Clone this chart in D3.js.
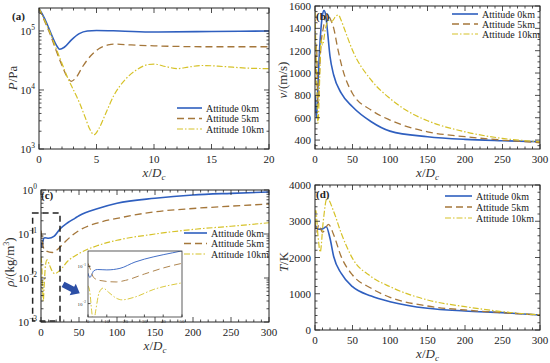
<!DOCTYPE html>
<meta charset="utf-8">
<title>flow properties</title>
<style>

body {
  margin: 0;
  background: #fff;
}

svg text {
  font-family: "Liberation Serif", "DejaVu Serif", serif;
}

.frame {
  fill: none;
  stroke: #222;
  stroke-width: 1px;
}

.tick {
  stroke: #222;
  stroke-width: 0.8px;
}

.ticklabel {
  font-size: 11px;
  fill: #222;
}

.legend text {
  font-size: 10px;
  fill: #222;
}

.title {
  font-size: 13px;
  fill: #333;
}

.line {
  fill: none;
}

.s0 {
  stroke: #2f5fbf;
  stroke-width: 1.6px;
}

.s5 {
  stroke: #a5773b;
  stroke-width: 1.3px;
  stroke-dasharray: 7,4;
}

.s10 {
  stroke: #d6c228;
  stroke-width: 1.2px;
  stroke-dasharray: 6,2,1.5,2;
}

</style>
<body>
<script src="https://d3js.org/d3.v7.min.js"></script>
<script>

var seriesNames = ["Attitude 0km", "Attitude 5km", "Attitude 10km"],
    seriesClass = ["s0", "s5", "s10"];

// (a) pressure P/Pa vs x/Dc
var pres0 = [[0,2.4e5],[0.5,1.6e5],[1,9.5e4],[1.5,5.8e4],[1.8,4.9e4],[2.2,5.3e4],[2.8,7.0e4],[3.5,9.0e4],[4.2,1.0e5],[5,1.02e5],[7,1.0e5],[10,0.96e5],[15,0.98e5],[20,1.0e5]];
var pres5 = [[0,2.4e5],[0.5,1.45e5],[1,8.5e4],[1.5,4.6e4],[2,2.6e4],[2.5,1.6e4],[2.8,1.4e4],[3.2,1.6e4],[3.8,2.5e4],[4.5,3.8e4],[5.2,5.0e4],[6,5.8e4],[6.5,6.0e4],[8,5.8e4],[10,5.6e4],[15,5.4e4],[20,5.4e4]];
var pres10 = [[0,2.4e5],[0.5,1.5e5],[1,9e4],[1.5,5e4],[2,2.8e4],[2.5,1.6e4],[3,1.0e4],[3.5,6.2e3],[4,3.5e3],[4.4,2.2e3],[4.8,1.75e3],[5.2,2.2e3],[5.8,4e3],[6.5,8e3],[7.5,1.5e4],[8.5,2.2e4],[9.5,2.7e4],[10,2.75e4],[11,2.5e4],[12,2.3e4],[13,2.45e4],[14.2,2.6e4],[16,2.5e4],[18,2.35e4],[20,2.3e4]];

// (b) velocity v/(m/s)
var vel0 = [[0,800],[2,600],[4,900],[6,1200],[8,1400],[10,1520],[12,1560],[14,1530],[17,1350],[20,1150],[25,980],[35,820],[50,698],[75,564],[100,480],[150,430],[200,406],[250,394],[300,385]];
var vel5 = [[0,900],[2,1250],[4,700],[6,1000],[8,1250],[11,1400],[14,1500],[17,1530],[20,1490],[25,1400],[30,1230],[36,1055],[50,817],[75,668],[100,579],[150,474],[200,430],[250,400],[300,376]];
var vel10 = [[0,1550],[2,1000],[4,550],[6,900],[8,1300],[10,1250],[14,1400],[18,1470],[22,1460],[28,1510],[31,1520],[35,1470],[40,1380],[50,1204],[75,936],[100,772],[125,653],[150,573],[200,474],[250,415],[300,385]];

// (c) density rho/(kg/m3)
var rho0 = [[0,0.065],[1,0.05],[2,0.06],[3,0.075],[5,0.082],[10,0.08],[17,0.088],[25,0.13],[35,0.18],[45,0.23],[50,0.26],[75,0.38],[100,0.5],[150,0.65],[200,0.77],[250,0.84],[300,0.9]];
var rho5 = [[0,0.12],[1,0.09],[3,0.05],[6,0.042],[15,0.038],[20,0.042],[30,0.062],[40,0.09],[50,0.12],[75,0.18],[100,0.226],[150,0.32],[200,0.38],[250,0.43],[300,0.48]];
var rho10 = [[0,0.03],[1,0.02],[2,0.006],[3,0.003],[4,0.006],[6,0.02],[8,0.026],[11,0.02],[15,0.014],[18,0.0126],[25,0.015],[35,0.024],[50,0.036],[75,0.055],[100,0.072],[150,0.1],[200,0.127],[250,0.15],[300,0.18]];

// (d) temperature T/K
var temp0 = [[0,2900],[5,2780],[10,2790],[15,2850],[20,2530],[25,2020],[35,1560],[50,1195],[75,938],[100,782],[150,598],[200,524],[250,478],[300,414]];
var temp5 = [[0,3000],[2,2700],[5,2900],[10,2700],[18,2915],[25,2620],[35,2020],[50,1517],[75,1150],[100,901],[150,662],[200,552],[250,478],[300,414]];
var temp10 = [[0,2900],[1,3300],[4,2600],[7,2150],[11,3000],[16,3640],[25,3264],[35,2667],[50,1977],[75,1471],[100,1195],[150,828],[200,644],[250,506],[300,414]];

// tick values
var xTicksA = [0, 5, 10, 15, 20],
    xTicksLong = [0, 50, 100, 150, 200, 250, 300],
    yTicksB = [400, 600, 800, 1000, 1200, 1400, 1600],
    yTicksD = [0, 1000, 2000, 3000, 4000],
    xTicksInset = [0, 10, 20, 30, 40, 50];

var svg = d3.select("body").append("svg")
    .attr("width", 550)
    .attr("height", 363);

var defs = svg.append("defs");

var line = function(x, y) {
  return d3.line()
      .x(function(d) { return x(d[0]); })
      .y(function(d) { return y(d[1]); })
      .curve(d3.curveMonotoneX);
};

function supLabel(sel, base, exp, size) {
  sel.text(base);
  sel.append("tspan")
      .attr("dy", -size * 0.45)
      .attr("font-size", size * 0.68)
      .text(exp);
}

function logMinor(dom) {
  var out = [];
  for (var e = Math.floor(Math.log10(dom[0])); e <= Math.ceil(Math.log10(dom[1])); e++) {
    for (var k = 2; k < 10; k++) {
      var v = k * Math.pow(10, e);
      if (v > dom[0] && v < dom[1]) out.push(v);
    }
  }
  return out;
}

function panel(o) {
  var g = svg.append("g");
  var x = d3.scaleLinear().domain(o.xDomain).range([o.left, o.right]);
  var y = (o.log ? d3.scaleLog() : d3.scaleLinear()).domain(o.yDomain).range([o.bottom, o.top]);

  defs.append("clipPath").attr("id", "clip" + o.name)
    .append("rect")
      .attr("x", o.left).attr("y", o.top)
      .attr("width", o.right - o.left).attr("height", o.bottom - o.top);

  o.series.forEach(function(s, i) {
    g.append("path")
        .datum(s)
        .attr("class", "line " + seriesClass[i])
        .attr("clip-path", "url(#clip" + o.name + ")")
        .attr("d", line(x, y));
  });

  // inward ticks on all four sides
  var ticks = g.append("g");
  function xt(v, len) {
    ticks.append("line").attr("class", "tick").attr("x1", x(v)).attr("x2", x(v)).attr("y1", o.bottom).attr("y2", o.bottom - len);
    ticks.append("line").attr("class", "tick").attr("x1", x(v)).attr("x2", x(v)).attr("y1", o.top).attr("y2", o.top + len);
  }
  function yt(v, len) {
    ticks.append("line").attr("class", "tick").attr("y1", y(v)).attr("y2", y(v)).attr("x1", o.left).attr("x2", o.left + len);
    ticks.append("line").attr("class", "tick").attr("y1", y(v)).attr("y2", y(v)).attr("x1", o.right).attr("x2", o.right - len);
  }
  o.xTicks.forEach(function(v) { xt(v, 5); });
  d3.range(o.xDomain[0], o.xDomain[1], o.xMinor).forEach(function(v) {
    if (o.xTicks.indexOf(v) < 0) xt(v, 2.5);
  });
  if (o.log) {
    o.yTicks.forEach(function(v) { yt(Math.pow(10, v), 5); });
    logMinor(o.yDomain).forEach(function(v) { yt(v, 2.5); });
  } else {
    o.yTicks.forEach(function(v) { yt(v, 5); });
    d3.range(o.yDomain[0] - o.yDomain[0] % o.yMinor + o.yMinor, o.yDomain[1], o.yMinor).forEach(function(v) {
      if (o.yTicks.indexOf(v) < 0) yt(v, 2.5);
    });
  }

  g.append("rect").attr("class", "frame")
      .attr("x", o.left).attr("y", o.top)
      .attr("width", o.right - o.left).attr("height", o.bottom - o.top);

  // tick labels
  g.selectAll(".xl").data(o.xTicks).enter().append("text")
      .attr("class", "ticklabel")
      .attr("x", function(d) { return x(d); })
      .attr("y", o.bottom + 14)
      .attr("text-anchor", "middle")
      .text(function(d) { return d; });

  g.selectAll(".yl").data(o.yTicks).enter().append("text")
      .attr("class", "ticklabel")
      .attr("x", o.left - 4)
      .attr("y", function(d) { return (o.log ? y(Math.pow(10, d)) : y(d)) + 4; })
      .attr("text-anchor", "end")
      .each(function(d) {
        if (o.log) supLabel(d3.select(this), "10", String(d).replace("-", "\u2212"), 11);
        else d3.select(this).text(d);
      });

  // axis titles
  var xt1 = g.append("text").attr("class", "title")
      .attr("x", (o.left + o.right) / 2).attr("y", o.bottom + 28)
      .attr("text-anchor", "middle");
  xt1.append("tspan").attr("font-style", "italic").text("x");
  xt1.append("tspan").text("/");
  xt1.append("tspan").attr("font-style", "italic").text("D");
  xt1.append("tspan").attr("font-style", "italic").attr("font-size", 9).attr("dy", 3).text("c");

  var yt1 = g.append("text").attr("class", "title")
      .attr("transform", "translate(" + o.yTitleX + "," + o.yTitleY + ")rotate(-90)")
      .attr("text-anchor", "middle");
  o.yTitle.forEach(function(p) {
    var t = yt1.append("tspan").text(p[0]);
    if (p[1] == "i") t.attr("font-style", "italic");
    if (p[1] == "sup") t.attr("font-size", 8).attr("dy", -5);
    if (p[1] == "after") t.attr("dy", 5);
  });

  g.append("text")
      .attr("x", o.labelX).attr("y", o.labelY)
      .attr("font-size", 11).attr("font-weight", "bold").attr("fill", "#222")
      .text(o.label);

  // legend
  var lg = g.append("g").attr("class", "legend");
  seriesNames.forEach(function(n, i) {
    var ly = o.legY + i * o.legStep;
    lg.append("line").attr("class", "line " + seriesClass[i])
        .attr("x1", o.legX).attr("x2", o.legX + o.legLen).attr("y1", ly).attr("y2", ly);
    lg.append("text").attr("x", o.legX + o.legLen + 4).attr("y", ly + 3.5).text(n);
  });

  return {x: x, y: y, g: g};
}

panel({
  name: "a", left: 39, right: 269, top: 8, bottom: 149,
  xDomain: [0, 20], yDomain: [1e3, 2.45e5], log: true,
  xTicks: xTicksA, xMinor: 1, yTicks: [3, 4, 5],
  series: [pres0, pres5, pres10],
  yTitle: [["P", "i"], ["/Pa", ""]], yTitleX: 17, yTitleY: 78,
  label: "(a)", labelX: 12, labelY: 20,
  legX: 177, legLen: 25, legY: 108, legStep: 10.5
});

panel({
  name: "b", left: 315, right: 540, top: 6, bottom: 149,
  xDomain: [0, 300], yDomain: [320, 1600], log: false,
  xTicks: xTicksLong, xMinor: 10, yTicks: yTicksB, yMinor: 50,
  series: [vel0, vel5, vel10],
  yTitle: [["v", "i"], ["/(m/s)", ""]], yTitleX: 287, yTitleY: 80,
  label: "(b)", labelX: 316, labelY: 20,
  legX: 452, legLen: 26, legY: 14, legStep: 10
});

var c = panel({
  name: "c", left: 41, right: 269, top: 190, bottom: 322,
  xDomain: [0, 300], yDomain: [1e-3, 1], log: true,
  xTicks: xTicksLong, xMinor: 10, yTicks: [-3, -2, -1, 0],
  series: [rho0, rho5, rho10],
  yTitle: [["\u03c1", "i"], ["/(kg/m", ""], ["3", "sup"], [")", "after"]], yTitleX: 14, yTitleY: 262,
  label: "(c)", labelX: 41, labelY: 199,
  legX: 184, legLen: 23, legY: 233, legStep: 10.5
});

panel({
  name: "d", left: 315, right: 540, top: 185, bottom: 330,
  xDomain: [0, 300], yDomain: [0, 4000], log: false,
  xTicks: xTicksLong, xMinor: 10, yTicks: yTicksD, yMinor: 200,
  series: [temp0, temp5, temp10],
  yTitle: [["T", "i"], ["/K", ""]], yTitleX: 288, yTitleY: 262,
  label: "(d)", labelX: 316, labelY: 198,
  legX: 445, legLen: 27, legY: 196, legStep: 11
});

// dashed zoom box on (c)
c.g.append("rect")
    .attr("x", c.x(-11)).attr("y", c.y(0.3))
    .attr("width", c.x(25) - c.x(-11)).attr("height", c.y(0.00105) - c.y(0.3))
    .attr("fill", "none").attr("stroke", "#222").attr("stroke-width", 1.5)
    .attr("stroke-dasharray", "6,4");

// blue block arrow
var a0 = [c.x(29), c.y(0.0072)], a1 = [c.x(51), c.y(0.0045)];
var dx = a1[0] - a0[0], dy = a1[1] - a0[1], len = Math.sqrt(dx * dx + dy * dy);
var ux = dx / len, uy = dy / len, nx = -uy, ny = ux;
var hb = [a1[0] - ux * 8, a1[1] - uy * 8];
var pts = [
  [a0[0] + nx * 3, a0[1] + ny * 3], [hb[0] + nx * 3, hb[1] + ny * 3], [hb[0] + nx * 6.5, hb[1] + ny * 6.5],
  a1,
  [hb[0] - nx * 6.5, hb[1] - ny * 6.5], [hb[0] - nx * 3, hb[1] - ny * 3], [a0[0] - nx * 3, a0[1] - ny * 3]
];
c.g.append("path").attr("d", "M" + pts.join("L") + "Z").attr("fill", "#2c4fa6");

// inset on (c)
var ins = {left: 88, right: 182, top: 251, bottom: 317};
var ix = d3.scaleLinear().domain([0, 50]).range([ins.left, ins.right]),
    iy = d3.scaleLog().domain([Math.pow(10, -2.36), Math.pow(10, -0.59)]).range([ins.bottom, ins.top]);
var ig = svg.append("g");
ig.append("rect").attr("x", ins.left).attr("y", ins.top)
    .attr("width", ins.right - ins.left).attr("height", ins.bottom - ins.top)
    .attr("fill", "#fff");
defs.append("clipPath").attr("id", "clipInset").append("rect")
    .attr("x", ins.left).attr("y", ins.top)
    .attr("width", ins.right - ins.left).attr("height", ins.bottom - ins.top);
[rho0, rho5, rho10].forEach(function(s, i) {
  ig.append("path")
      .datum(s.filter(function(d) { return d[0] <= 75; }))
      .attr("class", "line " + seriesClass[i])
      .attr("clip-path", "url(#clipInset)")
      .style("stroke-width", "0.9px")
      .attr("d", line(ix, iy));
});
xTicksInset.forEach(function(v) {
  ig.append("line").attr("class", "tick").attr("x1", ix(v)).attr("x2", ix(v)).attr("y1", ins.bottom).attr("y2", ins.bottom - 2.5);
  ig.append("text").attr("x", ix(v)).attr("y", ins.bottom + 5.5).attr("text-anchor", "middle")
      .attr("font-size", 5).attr("fill", "#333").text(v);
});
[-2, -1].forEach(function(e) {
  ig.append("line").attr("class", "tick").attr("x1", ins.left).attr("x2", ins.left + 2.5).attr("y1", iy(Math.pow(10, e))).attr("y2", iy(Math.pow(10, e)));
  var t = ig.append("text").attr("x", ins.left - 2).attr("y", iy(Math.pow(10, e)) + 2).attr("text-anchor", "end")
      .attr("font-size", 5).attr("fill", "#333");
  supLabel(t, "10", "\u2212" + (-e), 5);
});
ig.append("rect").attr("x", ins.left).attr("y", ins.top)
    .attr("width", ins.right - ins.left).attr("height", ins.bottom - ins.top)
    .attr("fill", "none").attr("stroke", "#333").attr("stroke-width", 0.8);

</script>
</body>
</html>
